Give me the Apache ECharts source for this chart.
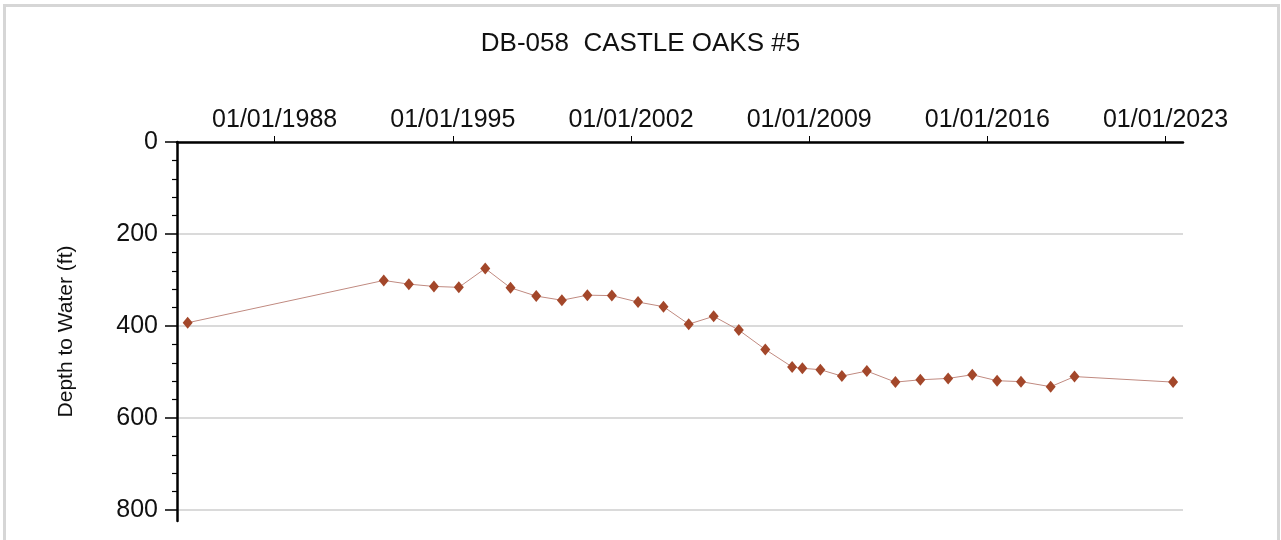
<!DOCTYPE html>
<html>
<head>
<meta charset="utf-8">
<title>DB-058 CASTLE OAKS #5</title>
<script src="https://cdn.jsdelivr.net/npm/echarts@6/dist/echarts.min.js"></script>
<style>
  html, body { margin: 0; padding: 0; background: #fff; }
  .frame {
    position: absolute; left: 3px; top: 4px;
    width: 1271px; height: 560px;
    border: 3px solid #d6d6d6;
  }
  #chart { position: absolute; left: 0; top: 0; width: 1281px; height: 540px; }
</style>
</head>
<body>
<div class="frame"></div>
<div id="chart"></div>
<script>
// measurement dates (approx.) and depth to water in ft
const sampleDates = [
  '1984-08-01', '1992-04-15', '1993-04-10', '1994-04-05', '1995-03-28',
  '1996-04-10', '1997-04-08', '1998-04-12', '1999-04-15', '2000-04-15',
  '2001-04-01', '2002-04-12', '2003-04-12', '2004-04-08', '2005-04-01',
  '2006-03-28', '2007-04-12', '2008-05-01', '2008-09-25', '2009-06-10',
  '2010-04-15', '2011-04-08', '2012-05-22', '2013-05-15', '2014-06-18',
  '2015-05-30', '2016-05-20', '2017-04-28', '2018-06-28', '2019-06-05',
  '2023-04-20'
]
const depthValues = [
  393, 301, 309, 314, 316,
  275, 317, 335, 344, 333,
  334, 348, 358, 396, 379,
  409, 451, 489, 492, 495,
  509, 498, 522, 517, 514,
  506, 519, 521, 532, 510,
  522
]
// top axis labels (01/01 every 7 years) and depth labels
const labelYears = [1988, 1995, 2002, 2009, 2016, 2023]
const depthTicks = [0, 200, 400, 600, 800]

const toTime = s => {
  const p = s.split('-')
  return Date.UTC(+p[0], +p[1] - 1, +p[2])
}
const yearTicks = labelYears.map(y => Date.UTC(y, 0, 1))
const minorDepth = []
for (let v = 40; v < 800; v += 40) {
  if (v % 200 !== 0) minorDepth.push(v)
}
const pad = n => (n < 10 ? '0' + n : '' + n)
const fmtDate = t => {
  const d = new Date(t)
  return pad(d.getUTCMonth() + 1) + '/' + pad(d.getUTCDate()) + '/' + d.getUTCFullYear()
}

const myChart = echarts.init(document.getElementById('chart'), null, { renderer: 'canvas' })
const font = '"Liberation Sans", Arial, sans-serif'

myChart.setOption({
  backgroundColor: 'transparent',
  animation: false,
  textStyle: { fontFamily: font },
  title: {
    text: 'DB-058  CASTLE OAKS #5',
    left: 'center',
    top: 26,
    textStyle: { fontSize: 26, fontWeight: 'normal', color: '#111', fontFamily: font }
  },
  grid: {
    left: 177,
    right: 98,
    top: 142,
    bottom: 19
  },
  xAxis: {
    type: 'value',
    position: 'top',
    min: Date.UTC(1984, 2, 1),
    max: Date.UTC(2023, 8, 9),
    axisLine: { show: true, onZero: false, lineStyle: { color: '#000', width: 2.5 } },
    axisTick: {
      show: true,
      customValues: yearTicks,
      length: 6,
      lineStyle: { color: '#000', width: 1 }
    },
    axisLabel: {
      customValues: yearTicks,
      formatter: v => fmtDate(v),
      fontSize: 25,
      color: '#111',
      margin: 9,
      fontFamily: font
    },
    splitLine: { show: false }
  },
  yAxis: [
    {
      type: 'value',
      inverse: true,
      position: 'left',
      min: 0,
      max: 824,
      name: 'Depth to Water (ft)',
      nameLocation: 'middle',
      nameGap: 100,
      nameTextStyle: { fontSize: 21, color: '#111', fontFamily: font },
      axisLine: { show: true, onZero: false, lineStyle: { color: '#000', width: 2.5 } },
      axisTick: {
        show: true,
        customValues: depthTicks,
        length: 12,
        lineStyle: { color: '#000', width: 1.5 }
      },
      axisLabel: {
        customValues: depthTicks,
        fontSize: 25,
        color: '#111',
        margin: 19,
        fontFamily: font
      },
      splitLine: { show: true, lineStyle: { color: '#dadada', width: 2 } }
    },
    {
      // minor ticks only
      type: 'value',
      inverse: true,
      position: 'left',
      min: 0,
      max: 824,
      axisLine: { show: false },
      axisTick: {
        show: true,
        customValues: minorDepth,
        length: 5,
        lineStyle: { color: '#000', width: 1.2 }
      },
      axisLabel: { show: false, customValues: minorDepth },
      splitLine: { show: false }
    }
  ],
  series: [
    {
      name: 'Depth to Water',
      type: 'line',
      data: sampleDates.map((d, i) => [toTime(d), depthValues[i]]),
      symbol: 'diamond',
      symbolSize: [10, 12],
      lineStyle: { color: '#c08a80', width: 1 },
      itemStyle: { color: '#a3472a' }
    }
  ]
})
</script>
</body>
</html>
